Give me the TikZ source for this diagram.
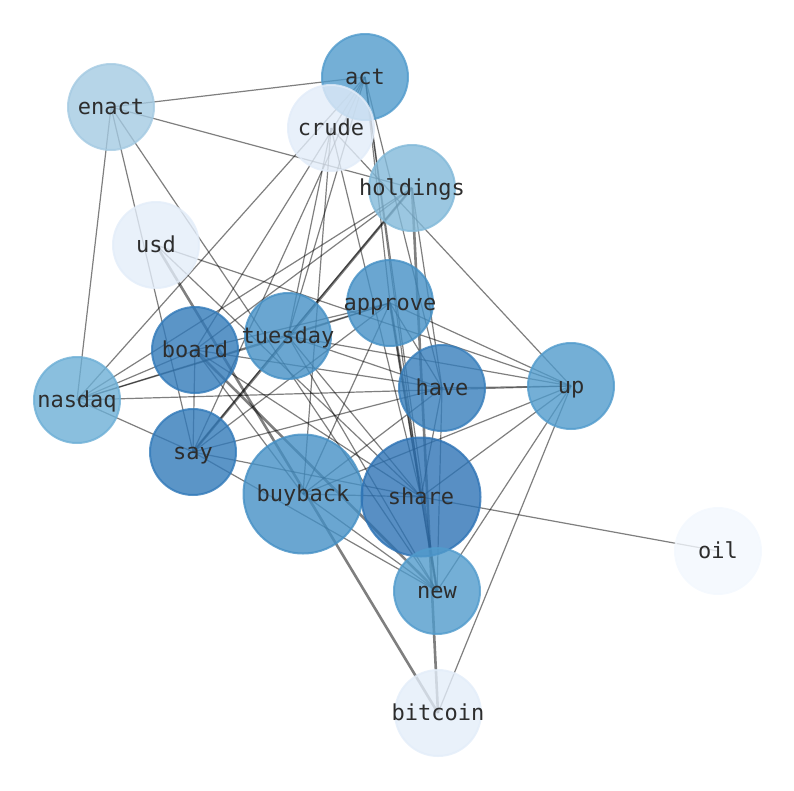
\documentclass[tikz,border=0pt]{standalone}
\usepackage{fontspec}
\setmonofont{DejaVu Sans Mono}
\pgfdeclarelayer{background}
\pgfsetlayers{background,main}
\definecolor{txt}{RGB}{45,45,45}
\definecolor{cact}{RGB}{81,155,204}
\definecolor{ccrude}{RGB}{226,236,249}
\definecolor{cenact}{RGB}{164,202,226}
\definecolor{choldings}{RGB}{130,185,217}
\definecolor{cusd}{RGB}{227,237,249}
\definecolor{capprove}{RGB}{69,144,197}
\definecolor{ctuesday}{RGB}{69,144,197}
\definecolor{cboard}{RGB}{50,122,185}
\definecolor{chave}{RGB}{55,126,187}
\definecolor{cup}{RGB}{81,155,204}
\definecolor{cnasdaq}{RGB}{109,175,214}
\definecolor{csay}{RGB}{50,122,185}
\definecolor{cbuyback}{RGB}{69,144,197}
\definecolor{cshare}{RGB}{46,115,181}
\definecolor{cnew}{RGB}{81,155,204}
\definecolor{coil}{RGB}{243,248,254}
\definecolor{cbitcoin}{RGB}{227,237,249}
\tikzset{
  nd/.style={circle, minimum size=86pt, inner sep=0pt, line width=2pt,
    fill=#1, draw=#1, fill opacity=0.8, draw opacity=0.8},
  big/.style={minimum size=119pt},
  lbl/.style={anchor=base, inner sep=0pt, text=txt,
    font=\ttfamily\fontsize{22}{22}\selectfont},
  ed/.style={draw=black, draw opacity=0.5, line width=1.2pt},
  edthick/.style={draw=black, draw opacity=0.5, line width=2.6pt}
}
\begin{document}
\begin{tikzpicture}[x=1pt,y=-1pt]
\useasboundingbox (0,0) rectangle (794,790);
\foreach \n/\x/\y/\s in {act/365/77/, crude/331/128/, enact/111/107/, holdings/412/188/,
  usd/156/245/, approve/390/303/, tuesday/288/336/, board/195/350/, have/442/388/,
  up/571/386/, nasdaq/77/400/, say/193/452/, buyback/303/494/big, share/421/497/big,
  new/437/591/, oil/718/551/, bitcoin/438/713/}
  {\node[nd=c\n,\s] (\n) at (\x,\y) {};
   \node[lbl] (t\n) at ([yshift=-7.3pt]\n.center) {\n};}
\begin{pgfonlayer}{background}
\foreach \a/\b in {enact/act, enact/holdings, enact/nasdaq, enact/say, enact/new,
  act/nasdaq, act/board, act/say, act/tuesday, act/approve, act/have, act/share, act/new,
  crude/tuesday, crude/buyback, crude/up, crude/share,
  holdings/nasdaq, holdings/board, holdings/tuesday, holdings/have,
  usd/up, usd/share,
  approve/nasdaq, approve/board, approve/tuesday, approve/say, approve/up, approve/share, approve/buyback, approve/have,
  tuesday/nasdaq, tuesday/have, tuesday/up, tuesday/share, tuesday/new, tuesday/say,
  board/nasdaq, board/say, board/have, board/share, board/buyback,
  have/say, have/buyback, have/share, have/new, have/up,
  up/nasdaq, up/buyback, up/share, up/new, up/bitcoin,
  nasdaq/say, say/share, say/new, buyback/share, buyback/new, share/oil, share/new}
  {\draw[ed] (\a.center) -- (\b.center);}
\foreach \a/\b in {holdings/say, holdings/bitcoin, usd/bitcoin, approve/new, board/new}
  {\draw[edthick] (\a.center) -- (\b.center);}
\end{pgfonlayer}
\end{tikzpicture}
\end{document}
